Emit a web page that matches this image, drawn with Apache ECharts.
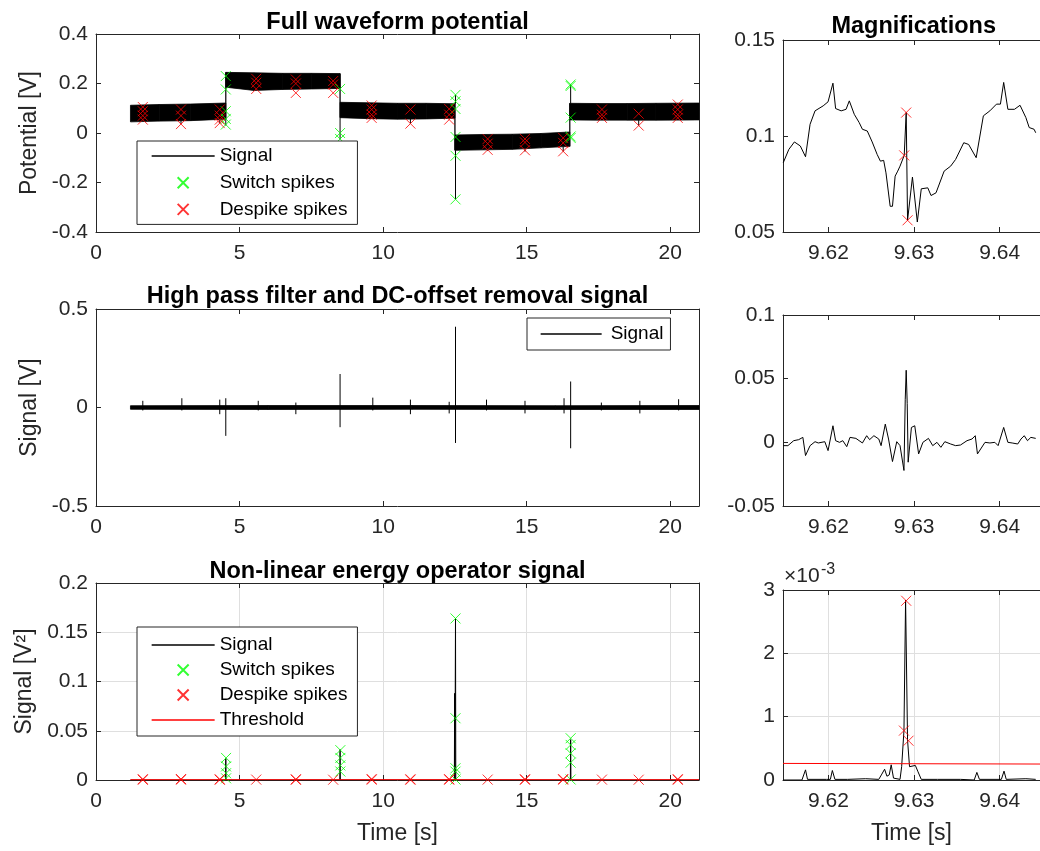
<!DOCTYPE html>
<html><head><meta charset="utf-8">
<script src="https://cdn.jsdelivr.net/npm/echarts@6/dist/echarts.min.js"></script>
<style>html,body{margin:0;padding:0;background:#fff}#c{width:1040px;height:851px}</style>
</head><body><div id="c"></div>
<script>
// ---------- tick labels ----------
const leftTicks = [0, 5, 10, 15, 20];
const rightTicks = [9.62, 9.63, 9.64];

// ---------- Full waveform potential ----------
const bandT  = [1.2, 2.2, 3.3, 4.52, 4.52, 5.5, 6.5, 7.5, 8.5, 8.5, 9.5, 10.5, 11.5, 12.5, 12.5, 13.5, 14.5, 15.5, 16.5, 16.5, 17.5, 18.5, 19.5, 21];
const bandHi = [0.112, 0.115, 0.117, 0.121, 0.245, 0.243, 0.241, 0.241, 0.24, 0.124, 0.122, 0.12, 0.12, 0.118, -0.008, -0.006, -0.005, -0.002, 0.004, 0.12, 0.119, 0.119, 0.12, 0.121];
const bandLo = [0.045, 0.048, 0.05, 0.056, 0.185, 0.172, 0.176, 0.178, 0.18, 0.062, 0.058, 0.056, 0.057, 0.06, -0.07, -0.068, -0.066, -0.06, -0.054, 0.053, 0.052, 0.052, 0.052, 0.053];
const potSpikeT    = [2.96, 4.31, 4.52, 8.5, 10.95, 12.52, 12.52, 13.64, 14.94, 16.27, 16.53, 18.9];
const potSpikeFrom = [0.05, 0.056, 0.057, 0.062, 0.057, 0.118, -0.07, -0.068, -0.066, -0.055, 0.12, 0.052];
const potSpikeTo   = [0.036, 0.04, 0.03, -0.025, 0.038, 0.154, -0.268, -0.072, -0.075, -0.075, 0.196, 0.03];
const potSwitchT = [4.52,4.52,4.52,4.52,4.52, 8.5,8.5,8.5, 12.52,12.52,12.52,12.52,12.52,12.52, 16.53,16.53,16.53,16.53,16.53];
const potSwitchV = [0.23,0.176,0.088,0.057,0.034, 0.178,0.0,-0.024, 0.154,0.128,0.097,-0.016,-0.092,-0.268, 0.196,0.19,0.062,-0.014,-0.02];
const potDespikeT = [1.63,1.63,1.63,1.63, 2.96,2.96,2.96, 4.31,4.31,4.31,4.31, 5.58,5.58,5.58, 6.96,6.96,6.96, 8.26,8.26,8.26, 9.6,9.6,9.6,9.6, 10.95,10.95, 12.3,12.3,12.3, 13.64,13.64,13.64, 14.94,14.94,14.94, 16.27,16.27,16.27, 17.62,17.62,17.62, 18.9,18.9, 20.26,20.26,20.26,20.26];
const potDespikeV = [0.105,0.088,0.07,0.054, 0.095,0.07,0.036, 0.095,0.07,0.054,0.04, 0.219,0.203,0.178, 0.216,0.2,0.162, 0.21,0.196,0.162, 0.111,0.095,0.074,0.061, 0.095,0.038, 0.097,0.074,0.054, -0.024,-0.043,-0.068, -0.024,-0.038,-0.07, -0.02,-0.04,-0.074, 0.095,0.074,0.061, 0.078,0.03, 0.115,0.095,0.074,0.061];

// ---------- High pass filter ----------
const hpBandT  = [1.2, 6, 11, 16, 21];
const hpBandHi = [0.009, 0.01, 0.01, 0.009, 0.01];
const hpBandLo = [-0.009, -0.01, -0.009, -0.01, -0.01];
const hpSpikeT  = [1.63, 2.99, 4.31, 4.52, 5.65, 6.96, 8.5, 9.64, 10.95, 12.3, 12.52, 13.6, 14.94, 16.3, 16.53, 17.6, 18.94, 20.29];
const hpSpikeHi = [0.034, 0.047, 0.04, 0.047, 0.034, 0.025, 0.17, 0.05, 0.04, 0.029, 0.41, 0.04, 0.034, 0.047, 0.132, 0.025, 0.034, 0.042];
const hpSpikeLo = [-0.015, -0.015, -0.034, -0.144, -0.015, -0.034, -0.1, -0.015, -0.034, -0.03, -0.18, -0.015, -0.03, -0.03, -0.207, -0.015, -0.03, -0.015];

// ---------- Non-linear energy operator ----------
const neoT = [1.2, 4.51, 4.52, 4.53, 8.49, 8.5, 8.51, 12.48, 12.49, 12.5, 12.52, 12.53, 16.52, 16.53, 16.54, 21];
const neoV = [0, 0, 0.022, 0, 0, 0.031, 0, 0, 0.088, 0, 0.164, 0, 0, 0.041, 0, 0];
const neoSwitchT = [4.53,4.53,4.53,4.53, 8.51,8.51,8.51,8.51, 12.52,12.52,12.52,12.52,12.52, 16.53,16.53,16.53,16.53,16.53];
const neoSwitchV = [0.0224,0.0138,0.0069,0.0017, 0.0303,0.0224,0.0148,0.0086, 0.164,0.0627,0.0119,0.0085,0.0005, 0.0424,0.0356,0.0271,0.0176,0.0005];
const neoDespikeT = [1.63,1.63,2.96,2.96,4.31,4.31,5.58,6.96,6.96,8.26,9.6,9.6,10.95,10.95,12.3,12.3,13.64,14.94,14.94,16.27,16.27,17.62,18.9,20.26,20.26];
const neoDespikeV = [0.0002,0.0009,0.0003,0.001,0.0002,0.0008,0.0004,0.0002,0.0008,0.0003,0.0003,0.001,0.0002,0.0008,0.0003,0.0009,0.0004,0.0002,0.0008,0.0003,0.001,0.0004,0.0003,0.0002,0.0009];
const neoThreshT = [1.2, 21];
const neoThreshV = [0.0003, 0.0003];

// ---------- Magnifications ----------
const magPotT = [9.61473, 9.61538, 9.61603, 9.61672, 9.61733, 9.61786, 9.61844, 9.61939, 9.61996, 9.62053, 9.62084, 9.62149, 9.62206, 9.62244, 9.62302, 9.62359, 9.62397, 9.62454, 9.62511, 9.62569, 9.62607, 9.62626, 9.62645, 9.62672, 9.62721, 9.62748, 9.62779, 9.62809, 9.62836, 9.62885, 9.62908, 9.62924, 9.62981, 9.63038, 9.63084, 9.63160, 9.63198, 9.63256, 9.63351, 9.63427, 9.63485, 9.63580, 9.63637, 9.63725, 9.63809, 9.63885, 9.63962, 9.64008, 9.64046, 9.64095, 9.64172, 9.64237, 9.64305, 9.64344, 9.64401, 9.64420];
const magPotV = [0.0861, 0.0930, 0.0969, 0.0948, 0.0892, 0.1061, 0.1131, 0.1157, 0.1178, 0.1275, 0.1143, 0.1131, 0.1139, 0.1183, 0.1113, 0.1070, 0.1035, 0.1026, 0.0969, 0.0904, 0.0869, 0.0861, 0.0873, 0.0808, 0.0634, 0.0634, 0.0791, 0.0817, 0.0843, 0.0899, 0.1122, 0.0561, 0.0786, 0.0552, 0.0725, 0.0730, 0.0690, 0.0704, 0.0817, 0.0843, 0.0878, 0.0965, 0.0956, 0.0887, 0.1105, 0.1131, 0.1166, 0.1166, 0.1279, 0.1139, 0.1139, 0.1160, 0.1096, 0.1044, 0.1035, 0.1017];
const magPotDespT = [9.62885, 9.62908, 9.62924];
const magPotDespV = [0.0899, 0.1122, 0.0561];
const magHpT = [9.61473, 9.61527, 9.61595, 9.61653, 9.61702, 9.61733, 9.61786, 9.61844, 9.61882, 9.61958, 9.61996, 9.62053, 9.62084, 9.62130, 9.62168, 9.62214, 9.62252, 9.62321, 9.62397, 9.62447, 9.62481, 9.62531, 9.62588, 9.62615, 9.62664, 9.62702, 9.62748, 9.62798, 9.62836, 9.62882, 9.62897, 9.62908, 9.62920, 9.62931, 9.62969, 9.63008, 9.63053, 9.63103, 9.63168, 9.63218, 9.63267, 9.63313, 9.63359, 9.63427, 9.63485, 9.63542, 9.63618, 9.63676, 9.63714, 9.63740, 9.63828, 9.63885, 9.63943, 9.63981, 9.64046, 9.64095, 9.64145, 9.64210, 9.64248, 9.64286, 9.64324, 9.64363, 9.64420];
const magHpV = [-0.0026, -0.0026, 0.0013, 0.0021, 0.0039, -0.0104, -0.0026, 0.0005, -0.0005, 0.0005, -0.0065, 0.0130, 0.0013, 0, 0.0013, -0.0034, 0.0039, 0.0031, -0.0005, 0.0052, 0.0021, 0.0052, 0.0026, -0.0026, 0.0143, 0.0026, -0.0151, 0.0005, -0.0026, -0.0221, 0.0338, 0.0566, 0.0306, -0.0156, 0.0117, 0.0130, -0.0091, 0, 0.0031, -0.0026, 0, -0.0039, 0.0005, -0.0013, -0.0026, -0.0021, 0.0013, 0.0026, 0.0052, -0.0091, 0, -0.0005, 0, -0.0026, 0.0117, 0, -0.0005, -0.0013, 0.0026, 0.0052, 0.0013, 0.0039, 0.0031];
const magNeoT = [9.61473, 9.61691, 9.61733, 9.61756, 9.61977, 9.62023, 9.62046, 9.62076, 9.62225, 9.62435, 9.62588, 9.62618, 9.62656, 9.62683, 9.62710, 9.62733, 9.62760, 9.62836, 9.62855, 9.62882, 9.62901, 9.62924, 9.62947, 9.62969, 9.63015, 9.63046, 9.63084, 9.63275, 9.63542, 9.63702, 9.63733, 9.63763, 9.64019, 9.64050, 9.64076, 9.64305, 9.64420];
const magNeoV = [0, 0, 0.00016, 0.00001, 0.00001, 0.00001, 0.00015, 0.00001, 0.00001, 0.00002, 0.00001, 0.00008, 0.00017, 0.00006, 0.00008, 0.00024, 0.00003, 0.00001, 0.00021, 0.00078, 0.00284, 0.00063, 0.00021, 0.00021, 0.00023, 0.00013, 0.00001, 0.00001, 0.00001, 0, 0.00012, 0.00001, 0.00001, 0.00014, 0.00001, 0.00002, 0.00001];
const magNeoDespT = [9.62882, 9.62908, 9.62935];
const magNeoDespV = [0.00078, 0.00283, 0.00062];
const magThreshT = [9.6147, 9.6447];
const magThreshV = [0.000262, 0.000252];

// ---------- helpers ----------
const FONT = '"Liberation Sans", Arial, Helvetica, sans-serif';
const AX = '#262626';
const GRIDC = '#dfdfdf';
const XPATH = 'path://M0 0L10 10M10 0L0 10';
const zip = (T, V) => T.map((t, i) => [t, V[i]]);
const segs = (T, A, B) => { const o = []; T.forEach((t, i) => { o.push([t, A[i]], [t, B[i]], null); }); return o; };
const bandItems = (T, Lo, Hi) => { const o = []; for (let i = 0; i < T.length - 1; i++) o.push([T[i], Lo[i], Hi[i], T[i+1], Lo[i+1], Hi[i+1]]); return o; };

const grids = [
  {left: 96, top: 34, width: 603, height: 198},
  {left: 783, top: 40, width: 262, height: 192},
  {left: 96, top: 309, width: 603, height: 197},
  {left: 783, top: 315, width: 262, height: 191},
  {left: 96, top: 583, width: 603, height: 197},
  {left: 783, top: 590, width: 262, height: 190}
];
const xRange = [[0, 21], [9.6147, 9.6447]];
const yDefs = [
  {min: -0.4, max: 0.4, interval: 0.2},
  {min: 0.05, max: 0.15, interval: 0.05},
  {min: -0.5, max: 0.5, interval: 0.5},
  {min: -0.05, max: 0.1, interval: 0.05},
  {min: 0, max: 0.2, interval: 0.05},
  {min: 0, max: 0.003, interval: 0.001}
];
const hasGrid = [false, false, false, false, true, true];

function xAxis(g, pos) {
  const right = g % 2 === 1;
  const ticks = right ? rightTicks : leftTicks;
  const a = {
    type: 'value', gridIndex: g, position: pos, min: xRange[right ? 1 : 0][0], max: xRange[right ? 1 : 0][1],
    axisLine: {show: true, onZero: false, lineStyle: {color: AX, width: 1}},
    axisTick: {show: true, inside: true, length: 5, customValues: ticks, lineStyle: {color: AX, width: 1}},
    axisLabel: {show: pos === 'bottom', customValues: ticks, color: AX, fontSize: 21, fontFamily: FONT, margin: 11,
      formatter: v => right ? Number(v).toFixed(2) : String(Math.round(v))},
    splitLine: {show: pos === 'bottom' && hasGrid[g], customValues: ticks, lineStyle: {color: GRIDC, width: 1}}
  };
  if (pos === 'bottom' && g >= 4) {
    a.name = 'Time [s]'; a.nameLocation = 'middle'; a.nameGap = 42;
    a.nameTextStyle = {fontSize: 23, color: AX, fontFamily: FONT};
  }
  return a;
}
function yAxis(g, pos) {
  const d = yDefs[g];
  const a = {
    type: 'value', gridIndex: g, position: pos, min: d.min, max: d.max, interval: d.interval,
    axisLine: {show: true, onZero: false, lineStyle: {color: AX, width: 1}},
    axisTick: {show: true, inside: true, length: 5, lineStyle: {color: AX, width: 1}},
    axisLabel: {show: pos === 'left', color: AX, fontSize: 21, fontFamily: FONT, margin: 8,
      formatter: g === 5 ? (v => String(Math.round(v * 1000))) : (v => String(Math.round(v * 1000) / 1000))},
    splitLine: {show: pos === 'left' && hasGrid[g], lineStyle: {color: GRIDC, width: 1}}
  };
  const names = ['Potential [V]', null, 'Signal [V]', null, 'Signal [V²]', null];
  if (pos === 'left' && names[g]) {
    a.name = names[g]; a.nameLocation = 'middle'; a.nameGap = 51;
    a.nameTextStyle = {fontSize: 23, color: AX, fontFamily: FONT};
  }
  return a;
}

const xAxes = [], yAxes = [];
for (let g = 0; g < 6; g++) xAxes.push(xAxis(g, 'bottom'));
for (let g = 0; g < 6; g++) xAxes.push(xAxis(g, 'top'));
for (let g = 0; g < 6; g++) yAxes.push(yAxis(g, 'left'));
[0, 2, 4].forEach(g => yAxes.push(yAxis(g, 'right')));

function lineS(name, g, data, color, z) {
  return {type: 'line', name, xAxisIndex: g, yAxisIndex: g, data, symbol: 'none', showSymbol: false,
    connectNulls: false, lineStyle: {color, width: 1}, itemStyle: {color}, z: z || 3, silent: true, animation: false};
}
function crossS(name, g, data, color, size) {
  return {type: 'scatter', name, xAxisIndex: g, yAxisIndex: g, data, symbol: XPATH, symbolSize: size || 10,
    itemStyle: {color: 'rgba(0,0,0,0)', borderColor: color, borderWidth: 1}, z: 5, silent: true, animation: false};
}
function bandS(g, T, Lo, Hi) {
  return {type: 'custom', name: 'band' + g, xAxisIndex: g, yAxisIndex: g, data: bandItems(T, Lo, Hi),
    encode: {x: [0, 3], y: [1, 2, 4, 5]}, silent: true, z: 2, animation: false,
    renderItem: (params, api) => ({
      type: 'polygon',
      shape: {points: [
        api.coord([api.value(0), api.value(2)]), api.coord([api.value(3), api.value(5)]),
        api.coord([api.value(3), api.value(4)]), api.coord([api.value(0), api.value(1)])]},
      style: {fill: '#000', stroke: '#000', lineWidth: 0.8}
    })};
}

const series = [
  lineS('Signal', 0, segs(potSpikeT, potSpikeFrom, potSpikeTo), '#000'),
  bandS(0, bandT, bandLo, bandHi),
  crossS('Switch spikes', 0, zip(potSwitchT, potSwitchV), '#00ff00'),
  crossS('Despike spikes', 0, zip(potDespikeT, potDespikeV), '#ff0000'),
  lineS('Signal', 2, segs(hpSpikeT, hpSpikeHi, hpSpikeLo), '#000'),
  bandS(2, hpBandT, hpBandLo, hpBandHi),
  lineS('Signal', 4, zip(neoT, neoV), '#000'),
  crossS('Switch spikes', 4, zip(neoSwitchT, neoSwitchV), '#00ff00'),
  crossS('Despike spikes', 4, zip(neoDespikeT, neoDespikeV), '#ff0000'),
  lineS('Threshold', 4, zip(neoThreshT, neoThreshV), '#ff0000', 6),
  lineS('Signal', 1, zip(magPotT, magPotV), '#000'),
  crossS('Despike spikes', 1, zip(magPotDespT, magPotDespV), '#ff0000'),
  lineS('Signal', 3, zip(magHpT, magHpV), '#000'),
  lineS('Signal', 5, zip(magNeoT, magNeoV), '#000'),
  crossS('Despike spikes', 5, zip(magNeoDespT, magNeoDespV), '#ff0000'),
  lineS('Threshold', 5, zip(magThreshT, magThreshV), '#ff0000', 6)
];

// legend entries for line series: hide the marker dot, keep the line
const lineItem = name => ({name, itemStyle: {opacity: 0, color: 'rgba(0,0,0,0)', borderWidth: 0}});
const legendBase = {orient: 'vertical', itemWidth: 63, itemHeight: 11, selectedMode: false,
  textStyle: {fontSize: 19, fontFamily: FONT, color: '#000', lineHeight: 20},
  borderColor: AX, borderWidth: 1, backgroundColor: '#fff', borderRadius: 0, lineStyle: {width: 1.3}, z: 10};
const legends = [
  Object.assign({}, legendBase, {data: [lineItem('Signal'), 'Switch spikes', 'Despike spikes'], left: 137, top: 141, padding: [5, 10, 5, 14], itemGap: 6.7}),
  Object.assign({}, legendBase, {data: [lineItem('Signal')], left: 527, top: 318, padding: [6, 7, 6, 13], itemGap: 5, itemWidth: 61,
    textStyle: {fontSize: 19, fontFamily: FONT, color: '#000', lineHeight: 20, padding: [0, 0, 0, 4]}}),
  Object.assign({}, legendBase, {data: [lineItem('Signal'), 'Switch spikes', 'Despike spikes', lineItem('Threshold')], left: 137, top: 627, padding: [8, 10, 6, 14], itemGap: 5})
];

const titleFont = 'bold 23.5px ' + FONT;
const graphic = [
  {type: 'text', x: 397.5, y: 22.5, style: {text: 'Full waveform potential', font: titleFont, fill: '#000', align: 'center', verticalAlign: 'middle'}},
  {type: 'text', x: 913.7, y: 26.5, style: {text: 'Magnifications', font: titleFont, fill: '#000', align: 'center', verticalAlign: 'middle'}},
  {type: 'text', x: 397.5, y: 297, style: {text: 'High pass filter and DC-offset removal signal', font: titleFont, fill: '#000', align: 'center', verticalAlign: 'middle'}},
  {type: 'text', x: 397.5, y: 571.5, style: {text: 'Non-linear energy operator signal', font: titleFont, fill: '#000', align: 'center', verticalAlign: 'middle'}},
  {type: 'text', x: 784, y: 576, style: {text: '×10', font: '21px ' + FONT, fill: AX, align: 'left', verticalAlign: 'middle'}},
  {type: 'text', x: 821, y: 570, style: {text: '-3', font: '16px ' + FONT, fill: AX, align: 'left', verticalAlign: 'middle'}}
];

const chart = echarts.init(document.getElementById('c'), null, {renderer: 'canvas'});
chart.setOption({
  animation: false,
  backgroundColor: '#fff',
  textStyle: {fontFamily: FONT},
  grid: grids,
  xAxis: xAxes,
  yAxis: yAxes,
  legend: legends,
  graphic: graphic,
  series: series
});
</script>
</body></html>
